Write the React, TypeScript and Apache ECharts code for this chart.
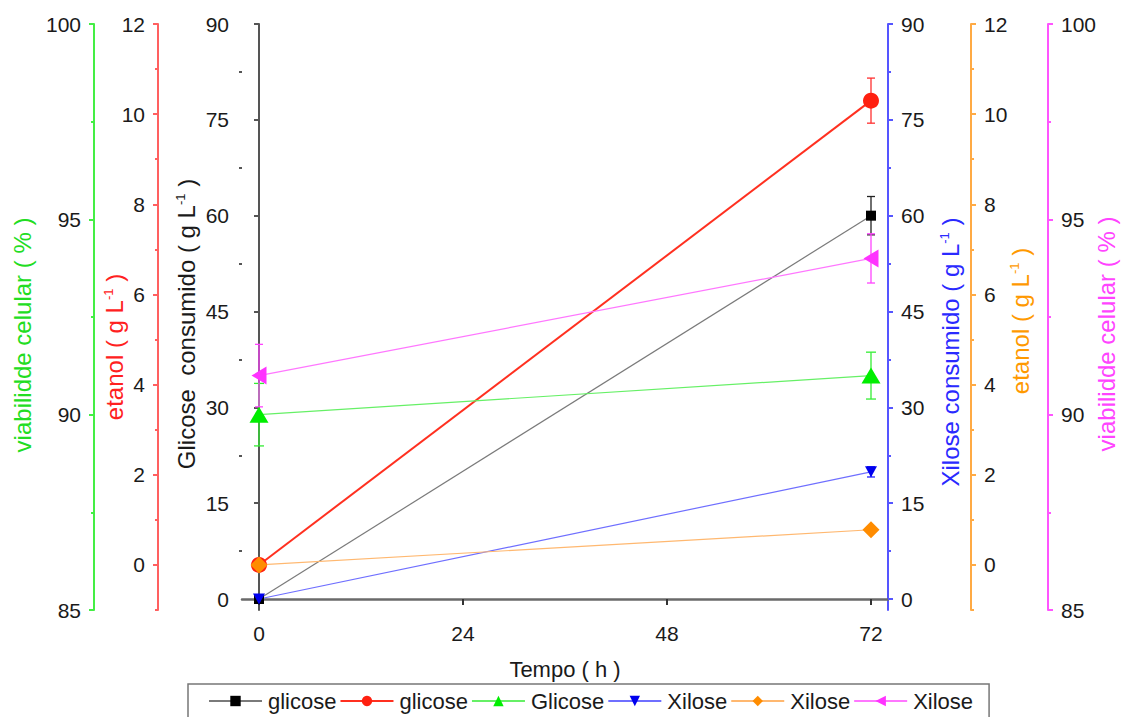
import React, { useEffect, useRef } from "react";
import * as echarts from "echarts";

const TIME = [0, 72];
const X_TICKS = [0, 24, 48, 72];

// glucose medium
const GLIC_CONSUMIDO = [0, 60];
const GLIC_CONSUMIDO_ERR = [0, 3];
const GLIC_ETANOL = [0, 10.3];
const GLIC_ETANOL_ERR = [0, 0.5];
const GLIC_VIAB = [90.0, 91.0];
const GLIC_VIAB_ERR = [0.8, 0.6];
// xylose medium
const XIL_CONSUMIDO = [0, 19.9];
const XIL_CONSUMIDO_ERR = [0, 0.8];
const XIL_ETANOL = [0, 0.78];
const XIL_ETANOL_ERR = [0, 0];
const XIL_VIAB = [91.0, 94.0];
const XIL_VIAB_ERR = [0.8, 0.63];

const CONS_TICKS = [0, 15, 30, 45, 60, 75, 90];
const CONS_MINOR = [7.5, 22.5, 37.5, 52.5, 67.5, 82.5];
const ETANOL_TICKS = [0, 2, 4, 6, 8, 10, 12];
const ETANOL_MINOR = [-1, 1, 3, 5, 7, 9, 11];
const VIAB_TICKS = [85, 90, 95, 100];
const VIAB_MINOR = [87.5, 92.5, 97.5];

const LEGEND_NAMES = ["glicose", "glicose", "Glicose", "Xilose", "Xilose", "Xilose"];

const FONT = "'Liberation Sans', Arial, Helvetica, sans-serif";
const NAME_SIZE = 24;

export default function App() {
  const ref = useRef<HTMLDivElement>(null);
  useEffect(() => {
    if (!ref.current) return;
    const chart = echarts.init(ref.current, null, { renderer: "svg" });

    const axisDefs = [
      { pos: "left", offset: 0, min: -1.72, max: 90, majors: CONS_TICKS, minors: CONS_MINOR, line: "#555555", nameColor: "#1a1a1a", text: "Glicose  consumido", sup: true, gap: 44, shift: 14 },
      { pos: "left", offset: 84, min: -1, max: 12, majors: ETANOL_TICKS, minors: ETANOL_MINOR, line: "#ff6060", nameColor: "#ff2020", text: "etanol", sup: true, gap: 32, shift: 60 },
      { pos: "left", offset: 148, min: 85, max: 100, majors: VIAB_TICKS, minors: VIAB_MINOR, line: "#44ee44", nameColor: "#22dd22", text: "viabilidde celular ( % )", sup: false, gap: 60, shift: 36 },
      { pos: "right", offset: 0, min: -1.72, max: 90, majors: CONS_TICKS, minors: CONS_MINOR, line: "#5555ff", nameColor: "#2a2aff", text: "Xilose consumido", sup: true, gap: 50, shift: 70 },
      { pos: "right", offset: 83, min: -1, max: 12, majors: ETANOL_TICKS, minors: ETANOL_MINOR, line: "#ffaa44", nameColor: "#ff9900", text: "etanol", sup: true, gap: 37, shift: 8 },
      { pos: "right", offset: 160, min: 85, max: 100, majors: VIAB_TICKS, minors: VIAB_MINOR, line: "#ff55ff", nameColor: "#ff44ff", text: "viabilidde celular ( % )", sup: false, gap: 46, shift: 34 },
    ];

    const yAxes: any[] = [];
    axisDefs.forEach((d) => {
      const name = d.sup ? `{n|${d.text} ( g L}{s|-1}{n| )}` : `{n|${d.text}}`;
      yAxes.push({
        type: "value",
        position: d.pos,
        offset: d.offset,
        min: d.min,
        max: d.max,
        name,
        nameLocation: "middle",
        nameRotate: 90,
        nameGap: d.gap,
        nameMoveOverlap: false,
        nameTextStyle: {
          color: d.nameColor,
          fontFamily: FONT,
          fontSize: NAME_SIZE,
          padding: [0, d.shift, 0, 0],
          rich: {
            n: { color: d.nameColor, fontFamily: FONT, fontSize: NAME_SIZE },
            s: { color: d.nameColor, fontFamily: FONT, fontSize: 13, verticalAlign: "top", padding: [0, 0, 10, 0] },
          },
        },
        axisLine: { show: true, lineStyle: { color: d.line, width: 2 } },
        axisTick: { show: true, length: 5, customValues: d.majors, lineStyle: { color: d.line, width: 2 } },
        axisLabel: { show: true, customValues: d.majors, margin: 13, color: "#1a1a1a", fontFamily: FONT, fontSize: 21 },
        splitLine: { show: false },
      });
    });
    // minor-tick overlay axes
    axisDefs.forEach((d) => {
      yAxes.push({
        type: "value",
        position: d.pos,
        offset: d.offset,
        min: d.min,
        max: d.max,
        axisLine: { show: false },
        axisTick: { show: true, length: 3, customValues: d.minors, lineStyle: { color: d.line, width: 2 } },
        axisLabel: { show: false },
        splitLine: { show: false },
      });
    });

    const errSeries = (yIdx: number, vals: number[], errs: number[], color: string, hw: number) => ({
      type: "custom",
      name: "err" + yIdx + color,
      xAxisIndex: 0,
      yAxisIndex: yIdx,
      silent: true,
      data: TIME.map((t, i) => [t, vals[i], errs[i]]),
      encode: { x: 0, y: 1 },
      renderItem: (_p: any, api: any) => {
        const x = api.value(0);
        const v = api.value(1);
        const e = api.value(2);
        if (!e) return { type: "group", children: [] };
        const top = api.coord([x, v + e]);
        const bot = api.coord([x, v - e]);
        const style = { stroke: color, lineWidth: 1.3 };
        return {
          type: "group",
          children: [
            { type: "line", shape: { x1: top[0], y1: top[1], x2: bot[0], y2: bot[1] }, style },
            { type: "line", shape: { x1: top[0] - hw, y1: top[1], x2: top[0] + hw, y2: top[1] }, style },
            { type: "line", shape: { x1: bot[0] - hw, y1: bot[1], x2: bot[0] + hw, y2: bot[1] }, style },
          ],
        };
      },
    });

    const lineSeries = (id: string, yIdx: number, vals: number[], opts: any) => ({
      type: "line",
      name: id,
      xAxisIndex: 0,
      yAxisIndex: yIdx,
      data: TIME.map((t, i) => [t, vals[i]]),
      showAllSymbol: true,
      ...opts,
    });

    const series: any[] = [
      errSeries(0, GLIC_CONSUMIDO, GLIC_CONSUMIDO_ERR, "#222222", 4),
      lineSeries("s1", 0, GLIC_CONSUMIDO, {
        symbol: "rect", symbolSize: 10,
        itemStyle: { color: "#000000" }, lineStyle: { color: "#7a7a7a", width: 1.2 },
      }),
      errSeries(1, GLIC_ETANOL, GLIC_ETANOL_ERR, "#ff3030", 4),
      lineSeries("s2", 1, GLIC_ETANOL, {
        symbol: "circle", symbolSize: 16,
        itemStyle: { color: "#ff2010" }, lineStyle: { color: "#ff3020", width: 2 },
      }),
      errSeries(2, GLIC_VIAB, GLIC_VIAB_ERR, "#33ee33", 5),
      lineSeries("s3", 2, GLIC_VIAB, {
        symbol: "triangle", symbolSize: [19, 16],
        itemStyle: { color: "#00ee00" }, lineStyle: { color: "#66f066", width: 1.2 },
      }),
      errSeries(3, XIL_CONSUMIDO, XIL_CONSUMIDO_ERR, "#2020ff", 4),
      lineSeries("s4", 3, XIL_CONSUMIDO, {
        symbol: "triangle", symbolSize: [12, 11], symbolRotate: 180,
        itemStyle: { color: "#0000ee" }, lineStyle: { color: "#6f6fff", width: 1.2 },
      }),
      errSeries(4, XIL_ETANOL, XIL_ETANOL_ERR, "#ff8c00", 4),
      lineSeries("s5", 4, XIL_ETANOL, {
        symbol: "diamond", symbolSize: [17, 17],
        itemStyle: { color: "#ff8c00" }, lineStyle: { color: "#ffb870", width: 1.2 },
      }),
      errSeries(5, XIL_VIAB, XIL_VIAB_ERR, "#ff44ff", 4),
      lineSeries("s6", 5, XIL_VIAB, {
        symbol: "triangle", symbolSize: [18, 15], symbolRotate: 90,
        itemStyle: { color: "#ff33ff" }, lineStyle: { color: "#ff77ff", width: 1.2 },
      }),
    ];

    const ids = ["s1", "s2", "s3", "s4", "s5", "s6"];

    chart.setOption({
      animation: false,
      backgroundColor: "#ffffff",
      textStyle: { fontFamily: FONT },
      grid: { left: 242, right: 241, top: 24, bottom: 107, containLabel: false },
      legend: {
        data: ids,
        formatter: (n: string) => LEGEND_NAMES[ids.indexOf(n)],
        left: 188,
        top: 684,
        orient: "horizontal",
        itemWidth: 53,
        itemHeight: 13,
        itemGap: 3,
        padding: [6, 16, 12, 20],
        borderColor: "#777777",
        borderWidth: 1.5,
        textStyle: { color: "#1a1a1a", fontFamily: FONT, fontSize: 22, padding: [0, 0, 0, 1] },
        selectedMode: false,
      },
      xAxis: {
        type: "value",
        min: -2,
        max: 74,
        name: "Tempo ( h )",
        nameLocation: "middle",
        nameGap: 48,
        nameMoveOverlap: false,
        nameTextStyle: { color: "#1a1a1a", fontFamily: FONT, fontSize: 22 },
        axisLine: { show: true, lineStyle: { color: "#6a6a6a", width: 2.5 } },
        axisTick: { show: true, length: 6, customValues: X_TICKS, lineStyle: { color: "#333", width: 2 } },
        axisLabel: { customValues: X_TICKS, margin: 13, color: "#1a1a1a", fontFamily: FONT, fontSize: 21 },
        splitLine: { show: false },
      },
      yAxis: yAxes,
      series,
    });

    return () => chart.dispose();
  }, []);

  return (
    <div
      ref={ref}
      style={{ position: "fixed", left: 0, top: 0, width: 1129, height: 717, background: "#fff" }}
    />
  );
}
